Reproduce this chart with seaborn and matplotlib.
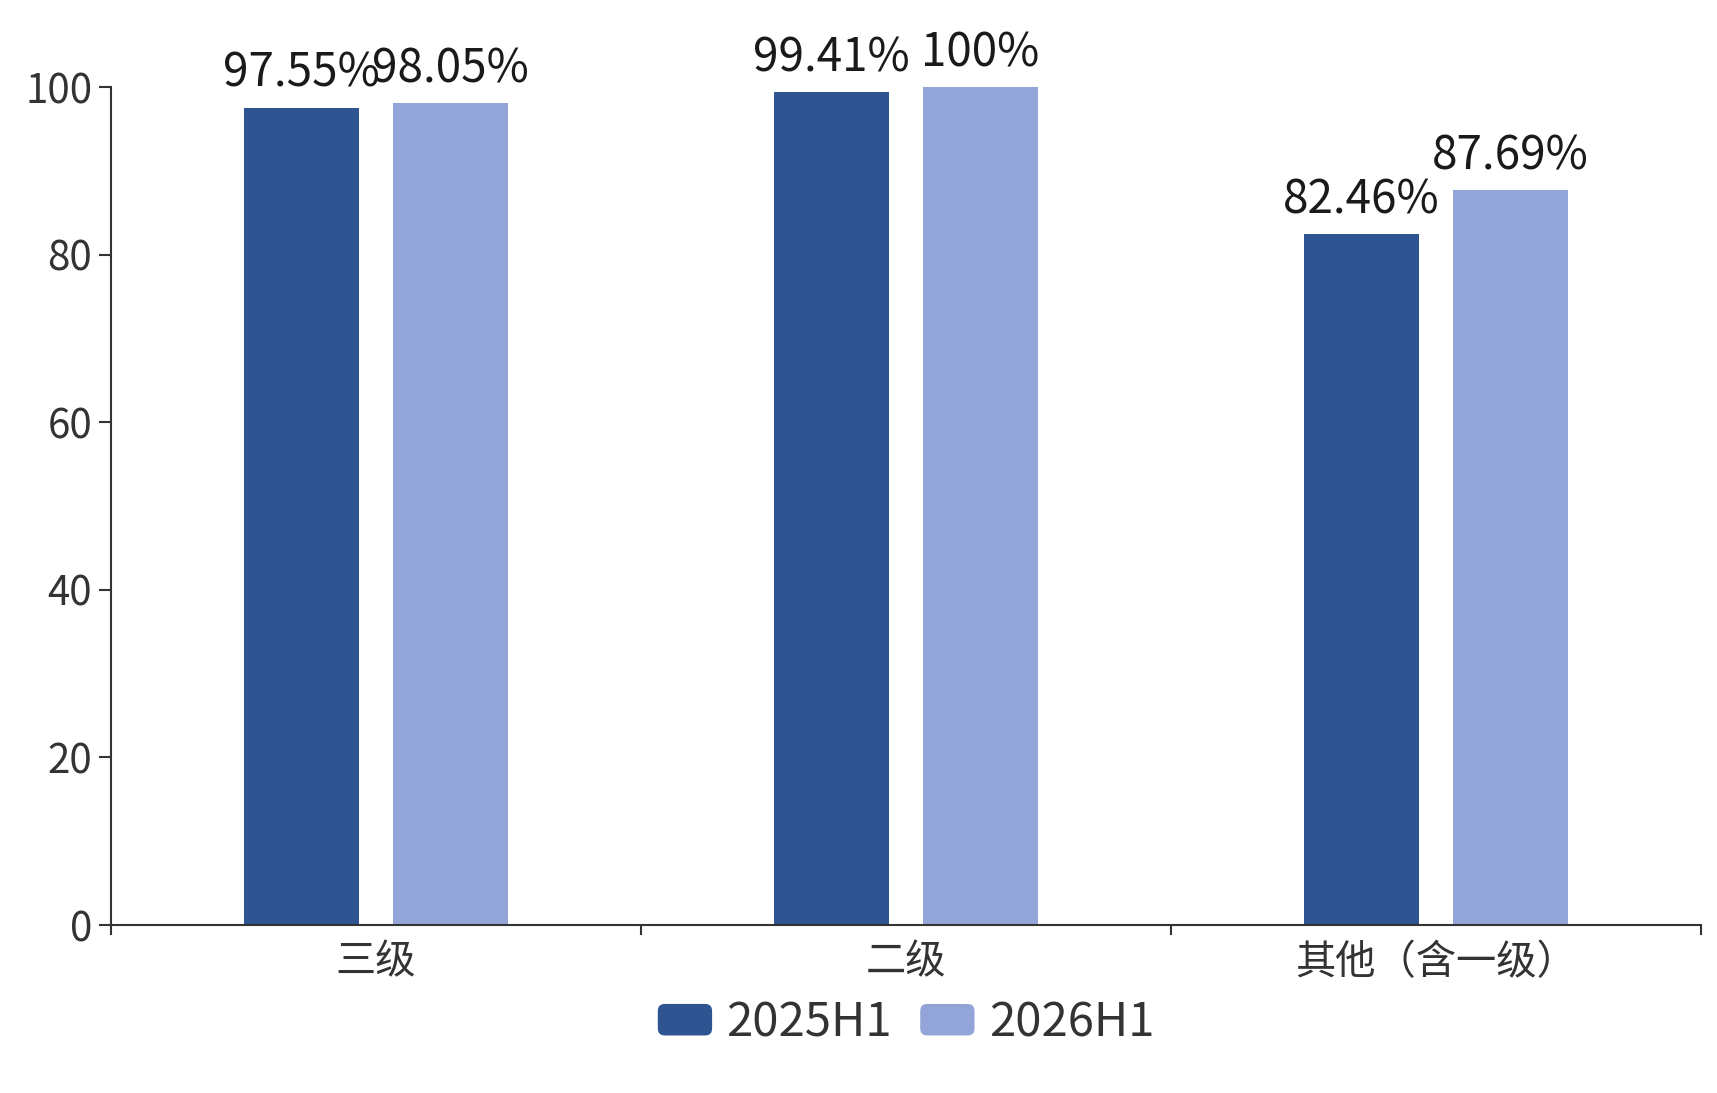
import pandas as pd
import matplotlib.pyplot as plt
import seaborn as sns
from matplotlib.patches import FancyBboxPatch
from matplotlib.legend_handler import HandlerPatch

# Datos
categorias = ['三级', '二级', '其他（含一级）']
periodos = ['2025H1', '2026H1']
valores_2025 = [97.55, 99.41, 82.46]
valores_2026 = [98.05, 100.0, 87.69]
colores = ['#2E5491', '#93A5D8']

df = pd.DataFrame({
    'categoria': categorias * 2,
    'periodo': [periodos[0]] * 3 + [periodos[1]] * 3,
    'valor': valores_2025 + valores_2026,
})

sns.set_style('white')
plt.rcParams['font.family'] = ['Noto Sans CJK SC', 'DejaVu Sans']

fig = plt.figure(figsize=(17.17, 10.93), dpi=100)
ax = fig.add_axes([111 / 1717, 168 / 1093, 1590 / 1717, 838 / 1093])

sns.barplot(data=df, x='categoria', y='valor', hue='periodo', palette=colores,
            width=0.5625, gap=0.228, saturation=1, linewidth=0, ax=ax)

# Etiquetas de valor
for cont, vals in zip(ax.containers, [valores_2025, valores_2026]):
    ax.bar_label(cont, labels=[f'{v:g}%' for v in vals], padding=7,
                 fontsize=33, color='#1a1a1a')

ax.set_xlim(-0.5, 2.5)
ax.set_ylim(0, 100)
ax.set_yticks([0, 20, 40, 60, 80, 100])
ax.set_xlabel('')
ax.set_ylabel('')

# Ticks del eje x en los bordes de cada categoría, etiquetas en el centro
ax.set_xticks([-0.5, 0.5, 1.5, 2.5])
ax.set_xticklabels([])
ax.set_xticks([0, 1, 2], minor=True)
ax.set_xticklabels(categorias, minor=True)
ax.tick_params(axis='x', which='major', length=7, width=1.5, color='#333333')
ax.tick_params(axis='x', which='minor', length=0, pad=12, labelsize=29, labelcolor='#333333')
ax.tick_params(axis='y', length=8.5, width=1.5, color='#333333', pad=5,
               labelsize=29, labelcolor='#333333')
ax.tick_params(bottom=True, left=True, which='major')

sns.despine(ax=ax)
for s in ['left', 'bottom']:
    ax.spines[s].set_color('#333333')
    ax.spines[s].set_linewidth(1.5)


# Marcadores de leyenda con esquinas redondeadas
def caja_redonda(legend, orig_handle, xdescent, ydescent, width, height, fontsize):
    return FancyBboxPatch((-xdescent, -ydescent), width, height,
                          boxstyle='round,pad=0,rounding_size=5')


ax.legend_.remove()
handles, labels = ax.get_legend_handles_labels()
fig.legend(handles, labels, loc='center', bbox_to_anchor=(906 / 1717, 0.064),
           ncol=2, frameon=False, fontsize=34, labelcolor='#333333',
           handlelength=1.15, handleheight=0.65, handletextpad=0.3,
           columnspacing=0.6,
           handler_map={h: HandlerPatch(patch_func=caja_redonda) for h in handles})

plt.savefig('out.png', dpi=100)
plt.close()
